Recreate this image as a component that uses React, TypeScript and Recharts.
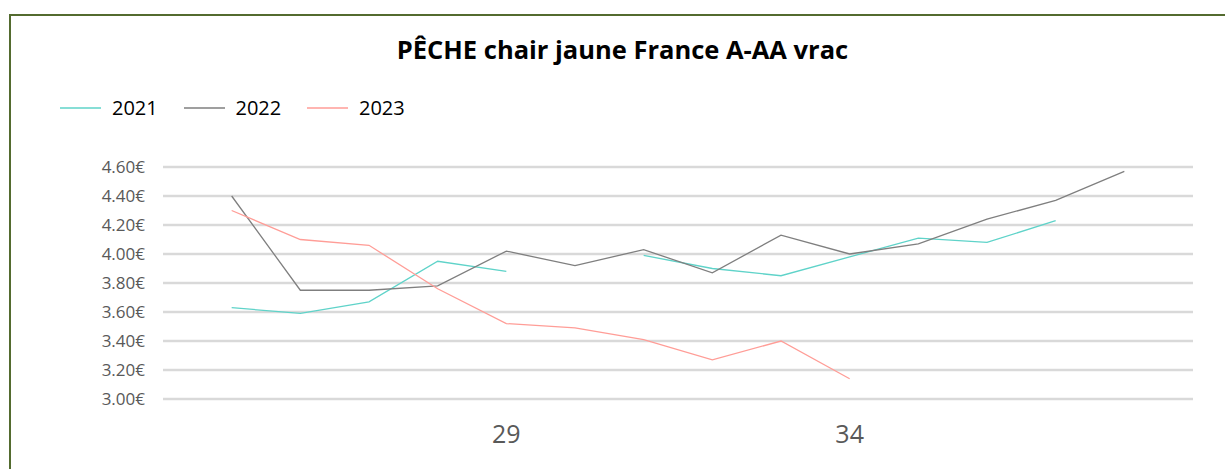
import { CartesianGrid, Line, LineChart, XAxis, YAxis } from "recharts";

const weeks = [25, 26, 27, 28, 29, 30, 31, 32, 33, 34, 35, 36, 37, 38];
const prices2021 = [3.63, 3.59, 3.67, 3.95, 3.88, null, 3.99, 3.9, 3.85, 3.98, 4.11, 4.08, 4.23, null];
const prices2022 = [4.4, 3.75, 3.75, 3.78, 4.02, 3.92, 4.03, 3.87, 4.13, 4.0, 4.07, 4.24, 4.37, 4.57];
const prices2023 = [4.3, 4.1, 4.06, 3.76, 3.52, 3.49, 3.41, 3.27, 3.4, 3.14, null, null, null, null];

const yTicks = [3.0, 3.2, 3.4, 3.6, 3.8, 4.0, 4.2, 4.4, 4.6];
const xTicks = [29, 34];

const series = [
  { key: "y2021", name: "2021", color: "#5fd3c9" },
  { key: "y2022", name: "2022", color: "#7f7f7f" },
  { key: "y2023", name: "2023", color: "#ff9d97" },
];

const data = weeks.map((week, i) => ({
  week,
  y2021: prices2021[i],
  y2022: prices2022[i],
  y2023: prices2023[i],
}));

const font = "'Open Sans', 'Noto Sans', sans-serif";

export default function App() {
  return (
    <div
      style={{
        position: "absolute",
        left: 0,
        top: 0,
        width: 1225,
        height: 469,
        overflow: "hidden",
        background: "#fff",
        fontFamily: font,
      }}
    >
      <div
        style={{
          position: "absolute",
          left: 9,
          top: 14,
          width: 1300,
          height: 500,
          borderTop: "2px solid #536b2f",
          borderLeft: "2px solid #536b2f",
        }}
      />
      <div
        style={{
          position: "absolute",
          left: 0,
          top: 31,
          width: 1245,
          textAlign: "center",
          fontSize: 25.5,
          fontWeight: 700,
          lineHeight: "36px",
          color: "#000",
        }}
      >
        PÊCHE chair jaune France A-AA vrac
      </div>
      <div style={{ position: "absolute", left: 60, top: 94, display: "flex", alignItems: "center" }}>
        {series.map((s) => (
          <div key={s.key} style={{ display: "flex", alignItems: "center", width: 123.5 }}>
            <svg width={41} height={4} style={{ marginRight: 11 }}>
              <line x1={0} y1={2} x2={41} y2={2} stroke={s.color} strokeWidth={1.5} />
            </svg>
            <span style={{ fontSize: 20, lineHeight: "28px", color: "#000" }}>{s.name}</span>
          </div>
        ))}
      </div>
      <div style={{ position: "absolute", left: 0, top: 0 }}>
        <LineChart width={1225} height={469} data={data} margin={{ top: 167, right: 32, bottom: 0, left: 0 }}>
          <CartesianGrid vertical={false} stroke="#d9d9d9" strokeWidth={2.5} />
          <XAxis
            dataKey="week"
            type="number"
            domain={[24, 39]}
            ticks={xTicks}
            height={70}
            axisLine={false}
            tickLine={false}
            tickSize={0}
            tickMargin={26}
            tick={{ fill: "#595959", fontSize: 25, fontFamily: font }}
          />
          <YAxis
            domain={[3, 4.6]}
            ticks={yTicks}
            width={163}
            axisLine={false}
            tickLine={false}
            tickSize={0}
            tickMargin={18}
            tickFormatter={(v: number) => `${v.toFixed(2)}€`}
            tick={{ fill: "#595959", fontSize: 17, fontFamily: font }}
          />
          {series.map((s) => (
            <Line
              key={s.key}
              type="linear"
              dataKey={s.key}
              name={s.name}
              stroke={s.color}
              strokeWidth={1.3}
              dot={false}
              isAnimationActive={false}
            />
          ))}
        </LineChart>
      </div>
    </div>
  );
}
